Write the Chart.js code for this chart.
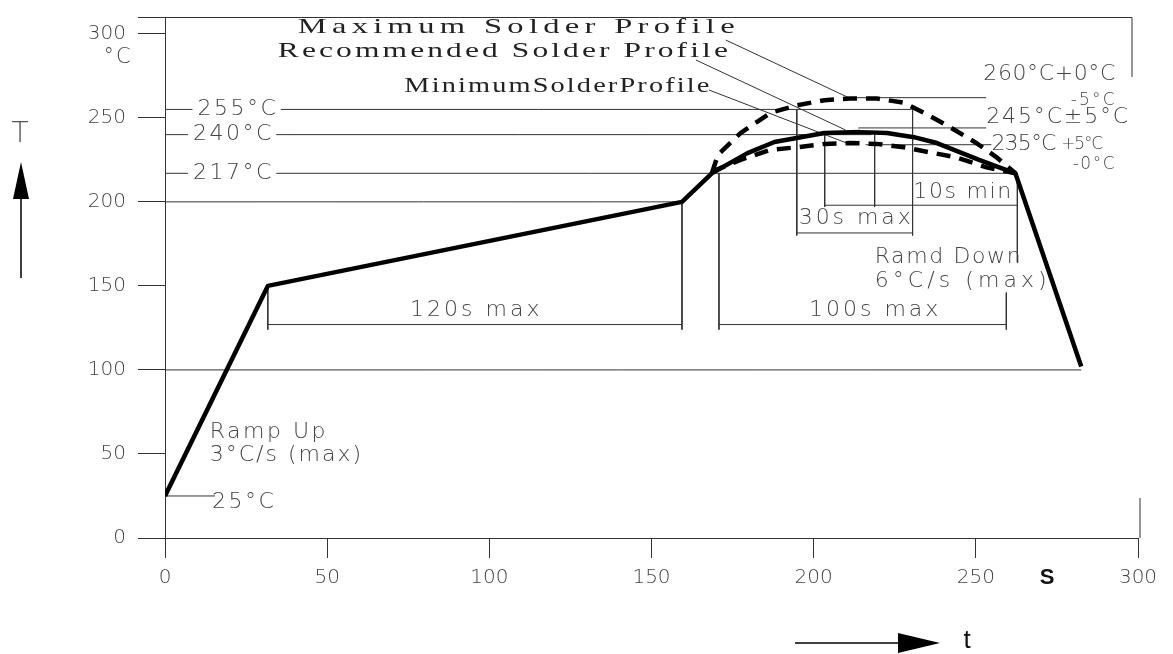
<!DOCTYPE html>
<html>
<head>
<meta charset="utf-8">
<script src="https://cdn.jsdelivr.net/npm/chart.js@4/dist/chart.umd.min.js"></script>
<style>
body { margin: 0; background: #fff; }
canvas { display: block; }
</style>
</head>
<body>
<canvas id="profile" width="1173" height="654"></canvas>
<script>
// reflow solder profile, time in s, temperature in °C
const timeTicks = [0, 50, 100, 150, 200, 250, 300];
const tempTicks = [0, 50, 100, 150, 200, 250, 300];

// recommended profile (solid)
const recTime = [0, 31.7, 159.4, 168.6, 179.6, 187.9, 203.3, 214.3, 222.6, 230.9, 238, 251, 262.2, 282.5];
const recTemp = [25, 150, 200, 217, 229, 235.6, 241, 241.5, 241, 238.5, 235, 225, 217, 102];

// maximum profile (dashed)
const maxTime = [168.6, 170.5, 177.5, 186.7, 195, 203.3, 211.2, 219.5, 227.8, 234, 242, 250.2, 256.4, 262.2];
const maxTemp = [217, 228, 241, 253, 257.5, 260.5, 261.5, 261.5, 259, 253, 244.5, 235, 226.5, 217];

// minimum profile (dashed)
const minTime = [168.6, 177.5, 186.7, 195, 203.3, 211.2, 219.5, 227.8, 235.8, 244, 253.3, 262.2];
const minTemp = [218, 225, 231, 232.5, 234.5, 235, 234.5, 232.5, 229.5, 226.5, 220.5, 217];

// temperature levels: [temp, from s, to s]
const levelLines = [[25, 0, 15.4], [100, 0, 282.5], [200, 0, 159.4], [217, 0, 262.2], [240, 0, 217.8], [255, 0, 230.2]];

// dimension lines: [s1, T1, s2, T2]
const dimLines = [
    [31.7, 150, 31.7, 124], [159.4, 200, 159.4, 124], [31.7, 127, 159.4, 127],
    [170.8, 217, 170.8, 124], [259.4, 146, 259.4, 124], [170.8, 127, 259.4, 127],
    [194.8, 255, 194.8, 180], [230.5, 255, 230.5, 180], [194.8, 181.5, 230.5, 181.5],
    [203.4, 240, 203.4, 197], [218.8, 240, 218.8, 197], [203.4, 198, 262.8, 198], [262.8, 217, 262.8, 164]
];

// leader lines from the profile names and the peak tolerances: [s1, T1, s2, T2]
const leaderLines = [
    [172.9, 296.3, 210.8, 262], [163.7, 284.4, 209.8, 242.8], [167.7, 266.6, 210.2, 235],
    [210.8, 262, 253.2, 262], [213.8, 244, 253.2, 244], [216, 234, 254.8, 234]
];

const CAD = '"DejaVu Sans", sans-serif';
const INK = '#444';

function pts(xs, ys) {
    return xs.map((x, i) => ({x: x, y: ys[i]}));
}

function segment(s, width) {
    return {
        data: [{x: s[0], y: s[1]}, {x: s[2], y: s[3]}],
        showLine: true, borderColor: '#333', borderWidth: width || 1, pointRadius: 0
    };
}

const datasets = [
    {label: 'Recommended Solder Profile', data: pts(recTime, recTemp), showLine: true,
        borderColor: '#000', borderWidth: 4.5, pointRadius: 0, borderJoinStyle: 'round'},
    {label: 'Maximum Solder Profile', data: pts(maxTime, maxTemp), showLine: true,
        borderColor: '#000', borderWidth: 4.5, borderDash: [14, 9], pointRadius: 0},
    {label: 'Minimum Solder Profile', data: pts(minTime, minTemp), showLine: true,
        borderColor: '#000', borderWidth: 4.5, borderDash: [14, 9], pointRadius: 0}
];
levelLines.forEach(l => datasets.push(segment([l[1], l[0], l[2], l[0]])));
dimLines.forEach(l => datasets.push(segment(l)));
leaderLines.forEach(l => datasets.push(segment(l)));

// text with optional letter spacing / horizontal stretch, fitted to a width when given
function put(ctx, s, px, py, font, opt) {
    opt = opt || {};
    const sx = opt.stretch || 1;
    ctx.save();
    ctx.font = font;
    ctx.fillStyle = opt.color || INK;
    ctx.textBaseline = 'middle';
    ctx.textAlign = 'left';
    let sp = opt.spacing || 0;
    if (opt.width) {
        ctx.letterSpacing = '0px';
        sp = (opt.width / sx - ctx.measureText(s).width) / (s.length - 1);
    }
    ctx.letterSpacing = sp + 'px';
    const w = (ctx.measureText(s).width - sp) * sx;
    let x = px;
    if (opt.align === 'center') x = px - w / 2;
    if (opt.align === 'right') x = px - w;
    if (opt.blank) {
        ctx.fillStyle = '#fff';
        ctx.fillRect(x - 5, py - 10, w + 10, 20);
        ctx.fillStyle = opt.color || INK;
    }
    ctx.translate(x, py);
    ctx.scale(sx, 1);
    ctx.fillText(s, 0, 0);
    ctx.restore();
}

const notes = {
    id: 'notes',
    afterDraw(chart) {
        const ctx = chart.ctx, X = chart.scales.x, Y = chart.scales.y, a = chart.chartArea;
        const px = v => X.getPixelForValue(v), py = v => Y.getPixelForValue(v);
        const big = '200 22px ' + CAD, small = '200 17px ' + CAD;

        // frame
        ctx.save();
        ctx.strokeStyle = '#333';
        ctx.lineWidth = 1;
        ctx.beginPath();
        ctx.moveTo(a.left - 27, Math.round(a.top) + 0.5);
        ctx.lineTo(a.right - 6, Math.round(a.top) + 0.5);
        ctx.lineTo(a.right - 6, a.top + 60);
        ctx.moveTo(a.right + 2, a.bottom - 40);
        ctx.lineTo(a.right + 2, a.bottom);
        ctx.stroke();
        ctx.restore();

        put(ctx, '255°C', px(10), py(255), big, {spacing: 2.5, blank: true});
        put(ctx, '240°C', px(8.6), py(240), big, {spacing: 2.5, blank: true});
        put(ctx, '217°C', px(8.6), py(217), big, {spacing: 2.5, blank: true});
        put(ctx, '25°C', px(14.5), py(21.4), big, {spacing: 2.5});
        put(ctx, 'Ramp Up', px(13.8), py(63), big, {spacing: 2.5});
        put(ctx, '3°C/s (max)', px(13.8), py(49.4), big, {spacing: 2});
        put(ctx, '120s max', px(95.5), py(135.5), big, {spacing: 3, align: 'center'});
        put(ctx, '100s max', px(218.5), py(135.5), big, {spacing: 3, align: 'center'});
        put(ctx, '30s max', px(195.4), py(190.4), big, {width: 112});
        put(ctx, '10s min', px(230.7), py(205.9), big, {width: 98});
        put(ctx, 'Ramd Down', px(218.8), py(167.2), big, {width: 146});
        put(ctx, '6°C/s (max)', px(218.8), py(152.9), big, {width: 172});
        put(ctx, '260°C+0°C', px(252.3), py(276), big, {width: 132});
        put(ctx, '-5°C', px(292.8), py(260.5), small, {width: 44, align: 'right'});
        put(ctx, '245°C±5°C', px(253.2), py(250.5), big, {width: 142});
        put(ctx, '235°C', px(254.8), py(234), big, {width: 65});
        put(ctx, '+5°C', px(276.3), py(234), small, {width: 42});
        put(ctx, '-0°C', px(292.8), py(222), small, {width: 42, align: 'right'});

        const serif = '21px "Liberation Serif", serif';
        put(ctx, 'Maximum Solder Profile', px(40.9), py(303.5), serif, {width: 437, stretch: 1.55, color: '#222'});
        put(ctx, 'Recommended Solder Profile', px(34.8), py(289.2), serif, {width: 450, stretch: 1.5, color: '#222'});
        put(ctx, 'MinimumSolderProfile', px(73.8), py(268.4), serif, {width: 305, stretch: 1.35, color: '#222'});

        // unit and axis names
        put(ctx, '°C', 117, 58, '200 21px ' + CAD, {spacing: 2, align: 'center'});
        put(ctx, 'T', 20, 135, '200 28px ' + CAD, {align: 'center', color: '#555'});
        put(ctx, 'S', 1047, 578, 'bold 22px "Liberation Sans", sans-serif', {align: 'center', color: '#111'});
        put(ctx, 't', 967, 641, '26px "Liberation Sans", sans-serif', {align: 'center', color: '#111'});

        ctx.save();
        ctx.strokeStyle = '#000';
        ctx.fillStyle = '#000';
        ctx.lineWidth = 1.5;
        ctx.beginPath();
        ctx.moveTo(21, 278); ctx.lineTo(21, 199);
        ctx.moveTo(795, 643); ctx.lineTo(900, 643);
        ctx.stroke();
        ctx.beginPath();
        ctx.moveTo(21, 162); ctx.lineTo(29, 199); ctx.lineTo(13, 199); ctx.closePath();
        ctx.moveTo(940, 643); ctx.lineTo(898, 633); ctx.lineTo(898, 653); ctx.closePath();
        ctx.fill();
        ctx.restore();
    }
};

function noPad(s) {
    s.paddingTop = 0; s.paddingBottom = 0; s.paddingLeft = 0; s.paddingRight = 0;
}

new Chart(document.getElementById('profile'), {
    type: 'scatter',
    data: {datasets: datasets},
    options: {
        responsive: false,
        animation: false,
        layout: {padding: {top: 17, right: 35, left: 0, bottom: 0}},
        plugins: {legend: {display: false}, tooltip: {enabled: false}},
        scales: {
            x: {
                type: 'linear', min: 0, max: 300,
                afterBuildTicks: s => { s.ticks = timeTicks.map(v => ({value: v})); },
                afterFit: s => { s.height = 116; noPad(s); },
                grid: {drawOnChartArea: false, tickLength: 20, color: '#333'},
                border: {color: '#333'},
                ticks: {font: {family: CAD, size: 20, weight: 200}, color: INK, padding: 8, maxRotation: 0}
            },
            y: {
                type: 'linear', min: 0, max: 310,
                afterBuildTicks: s => { s.ticks = tempTicks.map(v => ({value: v})); },
                afterFit: s => { s.width = 165; noPad(s); },
                grid: {drawOnChartArea: false, tickLength: 27, color: '#333'},
                border: {color: '#333'},
                ticks: {font: {family: CAD, size: 20, weight: 200}, color: INK, padding: 12}
            }
        }
    },
    plugins: [notes]
});
</script>
</body>
</html>
